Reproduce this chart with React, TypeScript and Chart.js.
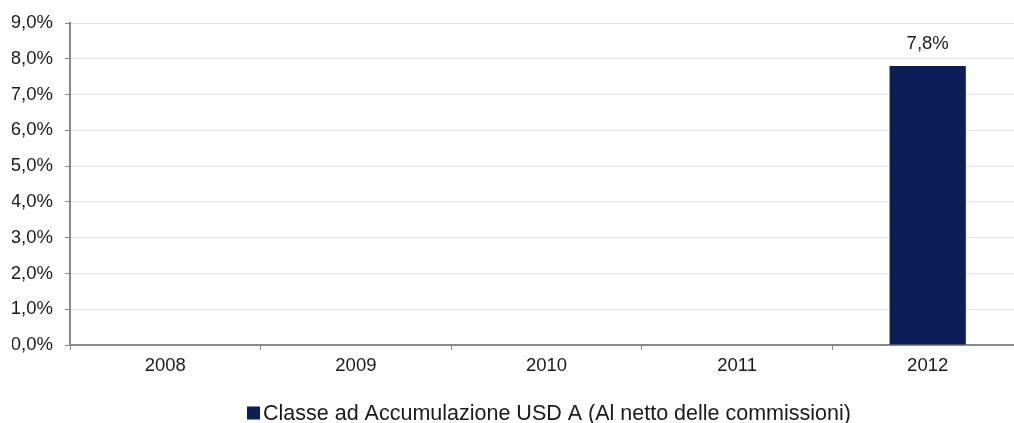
import React, { useEffect, useRef } from "react";
import { Chart, registerables } from "chart.js";

Chart.register(...registerables);

const categories = ["2008", "2009", "2010", "2011", "2012"];
const seriesLabel = "Classe ad Accumulazione USD A (Al netto delle commissioni)";
const seriesValues: (number | null)[] = [null, null, null, null, 7.8];
const yTicks = [0, 1, 2, 3, 4, 5, 6, 7, 8, 9];

const BAR_COLOR = "#0b1f56";
const TEXT_COLOR = "#1a1a1a";
const AXIS_COLOR = "#888888";
const FONT = "'Liberation Sans', Arial, sans-serif";

const fmt = (v: number) => v.toFixed(1).replace(".", ",") + "%";

const valueLabels = {
  id: "valueLabels",
  afterDatasetsDraw(chart: any) {
    const ctx = chart.ctx;
    const meta = chart.getDatasetMeta(0);
    ctx.save();
    ctx.font = `18.5px ${FONT}`;
    ctx.fillStyle = TEXT_COLOR;
    ctx.textAlign = "center";
    ctx.textBaseline = "middle";
    meta.data.forEach((el: any, i: number) => {
      const v = seriesValues[i];
      if (v == null) return;
      ctx.fillText(fmt(v), el.x, el.y - 22);
    });
    ctx.restore();
  },
};

const customLegend = {
  id: "customLegend",
  afterDraw(chart: any) {
    const ctx = chart.ctx;
    ctx.save();
    ctx.font = `21.5px ${FONT}`;
    const box = 13;
    const x0 = 247;
    const y = 413;
    ctx.fillStyle = BAR_COLOR;
    ctx.fillRect(x0, y - box / 2, box, box);
    ctx.fillStyle = TEXT_COLOR;
    ctx.textBaseline = "middle";
    ctx.textAlign = "left";
    ctx.fillText(seriesLabel, x0 + box + 3, y + 1);
    ctx.restore();
  },
};

export default function App() {
  const ref = useRef<HTMLCanvasElement>(null);
  useEffect(() => {
    document.body.style.margin = "0";
    const chart = new Chart(ref.current!, {
      type: "bar",
      data: {
        labels: categories,
        datasets: [
          {
            label: seriesLabel,
            data: seriesValues,
            backgroundColor: BAR_COLOR,
            categoryPercentage: 0.4,
            barPercentage: 1,
          },
        ],
      },
      options: {
        animation: false,
        responsive: false,
        devicePixelRatio: 1,
        layout: { padding: { top: 22, right: 0, bottom: 41, left: 12 } },
        plugins: { legend: { display: false }, tooltip: { enabled: false } },
        scales: {
          x: {
            afterFit: (axis: any) => {
              axis.height = 37;
            },
            grid: {
              drawOnChartArea: false,
              drawTicks: true,
              tickLength: 5,
              tickColor: AXIS_COLOR,
            },
            border: { color: AXIS_COLOR, width: 2 },
            ticks: { color: TEXT_COLOR, font: { family: FONT, size: 18.5 }, padding: 5 },
          },
          y: {
            min: 0,
            max: 9,
            afterFit: (axis: any) => {
              axis.width = 58;
            },
            afterBuildTicks: (axis: any) => {
              axis.ticks = yTicks.map((v) => ({ value: v }));
            },
            grid: {
              color: "#e3e3e3",
              tickColor: AXIS_COLOR,
              tickLength: 5,
            },
            border: { color: AXIS_COLOR, width: 2 },
            ticks: {
              color: TEXT_COLOR,
              font: { family: FONT, size: 18.5 },
              padding: 12,
              callback: (v: any) => fmt(Number(v)),
            },
          },
        },
      },
      plugins: [valueLabels, customLegend],
    });
    return () => chart.destroy();
  }, []);
  return (
    <div style={{ width: 1014, height: 423, overflow: "hidden", position: "relative" }}>
      <canvas ref={ref} width={1023} height={423} style={{ display: "block" }} />
    </div>
  );
}
